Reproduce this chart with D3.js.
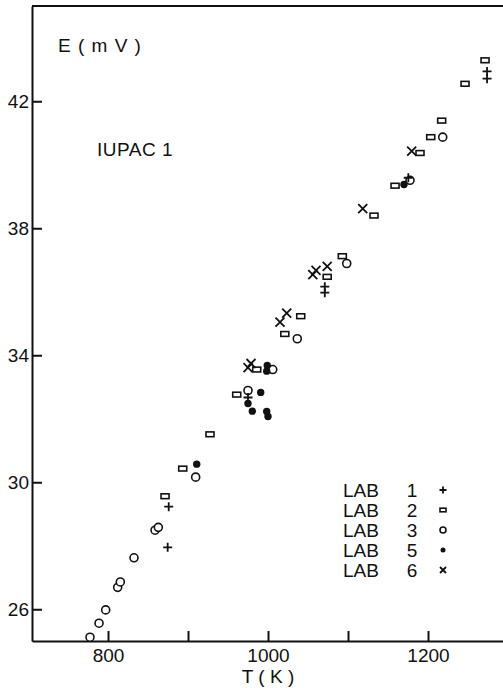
<!DOCTYPE html>
<html>
<head>
<meta charset="utf-8">
<script src="https://cdn.jsdelivr.net/npm/d3@7"></script>
<style>
  body { margin: 0; background: #fff; }
  svg text { font-family: "Liberation Sans", Arial, sans-serif; fill: #111; }
</style>
</head>
<body>
<div id="chart"></div>
<script>
// readings: [T (K), E (mV)]
const lab1 = [[875.9, 29.23], [874.6, 27.95], [975, 32.67], [1071, 36.16], [1071, 35.97],
  [1175.4, 39.59], [1273.8, 42.94], [1273.8, 42.71]];
const lab2 = [[871.3, 29.56], [893.4, 30.43], [927.5, 31.51], [960.9, 32.76], [985.9, 33.55],
  [1021, 34.67], [1040.9, 35.23], [1074, 36.47], [1092.9, 37.12], [1132.5, 38.4],
  [1158.8, 39.34], [1190, 40.37], [1203.4, 40.87], [1217.1, 41.39], [1246.3, 42.55], [1271.3, 43.29]];
const lab3 = [[777.5, 25.12], [788.8, 25.56], [797.1, 25.98], [812.1, 26.69], [815.4, 26.86],
  [832.5, 27.62], [858.8, 28.49], [862.9, 28.58], [909.6, 30.16], [975, 32.89],
  [1005.9, 33.55], [1036.6, 34.52], [1098.4, 36.89], [1177.5, 39.51], [1218.4, 40.87]];
const lab5 = [[910.9, 30.57], [975, 32.48], [980.4, 32.24], [990.9, 32.83], [998.4, 32.23],
  [1000, 32.07], [999.1, 33.68], [998.4, 33.5], [1170, 39.38]];
const lab6 = [[975, 33.61], [978.8, 33.74], [1015, 35.04], [1023.4, 35.33], [1060, 36.67],
  [1056, 36.54], [1074, 36.8], [1118.4, 38.62], [1179.6, 40.43]];

const xTicks = [800, 900, 1000, 1100, 1200];
const xLabelled = [800, 1000, 1200];
const yTicks = [26, 30, 34, 38, 42];
const legendLabs = ["1", "2", "3", "5", "6"];

const width = 503, height = 688;
const svg = d3.select("#chart").append("svg")
  .attr("width", width)
  .attr("height", height);

const x = d3.scaleLinear().domain([705, 1300]).range([32, 508]);
const y = d3.scaleLinear().domain([25, 45]).range([641, 6]);

// axes, ticks pointing inward
svg.append("g")
  .attr("transform", `translate(${x(705)},0)`)
  .call(d3.axisLeft(y).tickValues(yTicks).tickSizeInner(-10).tickSizeOuter(0).tickPadding(3))
  .call(g => g.selectAll("line, path").attr("stroke", "#111").attr("stroke-width", 2))
  .call(g => g.selectAll("text").style("font-size", "19px"));

svg.append("g")
  .attr("transform", `translate(0,${y(25)})`)
  .call(d3.axisBottom(x).tickValues(xTicks).tickSizeInner(-10).tickSizeOuter(0).tickPadding(8)
    .tickFormat(d => xLabelled.includes(d) ? d : ""))
  .call(g => g.selectAll("line, path").attr("stroke", "#111").attr("stroke-width", 2))
  .call(g => g.selectAll("text").style("font-size", "19px"));

// top frame
svg.append("line")
  .attr("x1", x(705)).attr("x2", width)
  .attr("y1", y(45)).attr("y2", y(45))
  .attr("stroke", "#111").attr("stroke-width", 2);

svg.append("text").attr("x", 58).attr("y", 52).style("font-size", "19px")
  .style("letter-spacing", "1px").text("E ( m V )");
svg.append("text").attr("x", 97).attr("y", 156).style("font-size", "19px")
  .style("letter-spacing", "0.5px").text("IUPAC  1");
svg.append("text").attr("x", 268).attr("y", 683).attr("text-anchor", "middle")
  .style("font-size", "19px").text("T ( K )");

// marker drawing
function drawMarker(g, kind, s) {
  if (kind === "plus") {
    g.append("path").attr("d", `M${-s},0H${s}M0,${-s}V${s}`)
      .attr("stroke", "#111").attr("stroke-width", 1.8).attr("fill", "none");
  } else if (kind === "square") {
    g.append("rect").attr("x", -s).attr("y", -s * 0.6).attr("width", 2 * s).attr("height", 1.2 * s)
      .attr("stroke", "#111").attr("stroke-width", 1.6).attr("fill", "#fff");
  } else if (kind === "circle") {
    g.append("circle").attr("r", s)
      .attr("stroke", "#111").attr("stroke-width", 1.6).attr("fill", "#fff");
  } else if (kind === "dot") {
    g.append("circle").attr("r", s).attr("fill", "#111");
  } else if (kind === "cross") {
    g.append("path").attr("d", `M${-s},${-s}L${s},${s}M${s},${-s}L${-s},${s}`)
      .attr("stroke", "#111").attr("stroke-width", 1.8).attr("fill", "none");
  }
}

const series = [
  { data: lab3, kind: "circle", size: 4 },
  { data: lab2, kind: "square", size: 4 },
  { data: lab5, kind: "dot", size: 3.7 },
  { data: lab1, kind: "plus", size: 4.5 },
  { data: lab6, kind: "cross", size: 4.5 }
];

series.forEach(s => {
  svg.append("g").selectAll("g")
    .data(s.data)
    .enter()
    .append("g")
    .attr("transform", d => `translate(${x(d[0])},${y(d[1])})`)
    .each(function () { drawMarker(d3.select(this), s.kind, s.size); });
});

// legend
const legendKinds = [["plus", 3.5], ["square", 3], ["circle", 3], ["dot", 2.5], ["cross", 3]];
const legend = svg.append("g");
legendLabs.forEach((lab, i) => {
  const ly = 490 + i * 20;
  legend.append("text").attr("x", 343).attr("y", ly + 7).style("font-size", "19px").text("LAB");
  legend.append("text").attr("x", 412).attr("y", ly + 7).attr("text-anchor", "middle")
    .style("font-size", "19px").text(lab);
  const g = legend.append("g").attr("transform", `translate(443,${ly})`);
  drawMarker(g, legendKinds[i][0], legendKinds[i][1]);
});
</script>
</body>
</html>
